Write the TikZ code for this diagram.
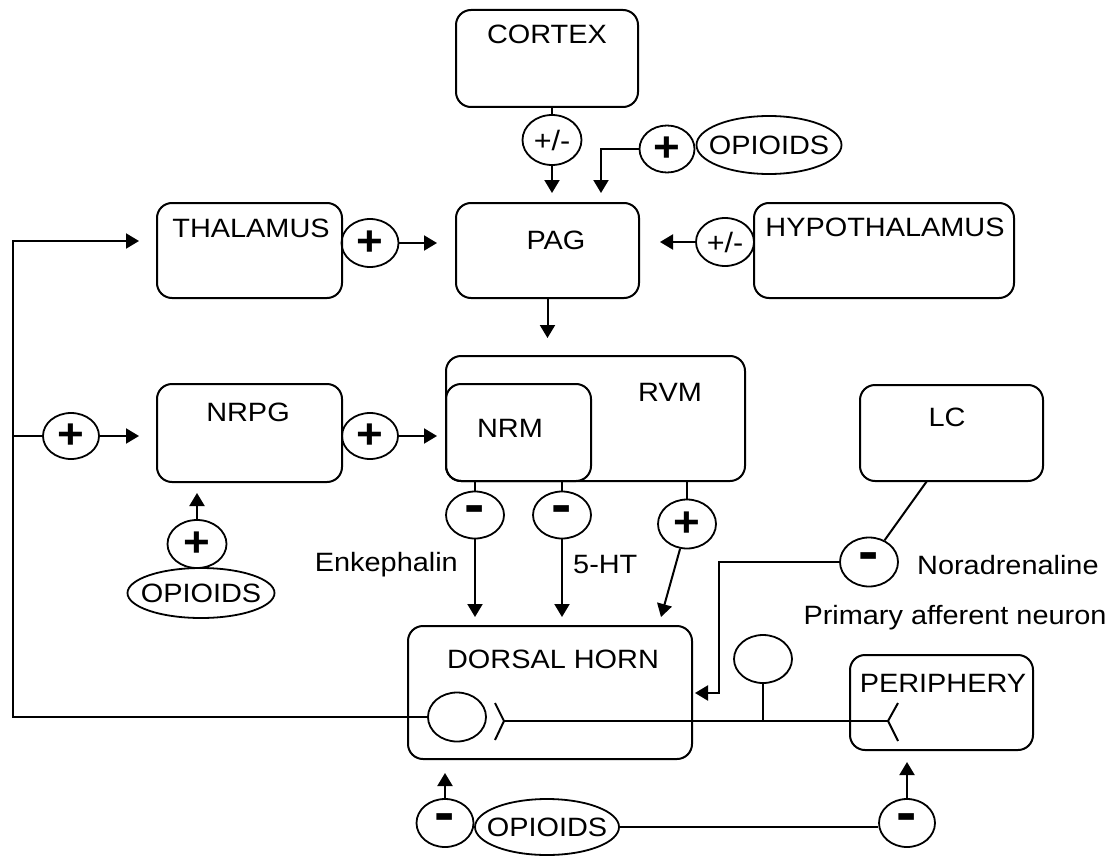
\documentclass[tikz,border=0pt]{standalone}
\usepackage{fontspec}
\setmainfont{Liberation Sans}[FakeStretch=1.09]
\usetikzlibrary{shapes.geometric,arrows.meta,fit}
\begin{document}
\begin{tikzpicture}[x=1pt,y=-1pt,
 box/.style={draw,line width=2pt,rounded corners=15pt,inner sep=0pt},
 ell/.style={draw,ellipse,line width=1.8pt,inner sep=0pt,minimum width=58pt,minimum height=48pt,font=\fontsize{28}{30}\selectfont},
 opi/.style={ell,font=\fontsize{26.5}{30}\selectfont,inner xsep=-16pt},
 sgn/.style={ell,font=\fontsize{42}{44}\selectfont\bfseries},
 mns/.style={ell,font=\fontsize{56}{58}\selectfont\bfseries},
 txt/.style={font=\fontsize{26.5}{30}\selectfont,inner sep=0pt},
 conn/.style={line width=2pt},
 arr/.style={conn,-{Triangle[length=13pt,width=15pt]}}]
\useasboundingbox (0,0) rectangle (1113,856);
% boxes
\node[box,fit={(456,10)(638,107)}] (cortex) {};
\node[txt] (cortexT) at (547,34) {CORTEX};
\node[box,fit={(456,203)(639,298)}] (pag) {};
\node[txt] (pagT) at (556,240) {PAG};
\node[box,fit={(157,203)(342,298)}] (thal) {};
\node[txt] (thalT) at (251,228) {THALAMUS};
\node[box,fit={(754,203)(1014,298)}] (hypo) {};
\node[txt] (hypoT) at (885,227) {HYPOTHALAMUS};
\node[box,fit={(157,384)(342,482)}] (nrpg) {};
\node[txt] (nrpgT) at (248,412) {NRPG};
\node[box,fit={(446,356)(745,481)}] (rvm) {};
\node[txt] (rvmT) at (670,392) {RVM};
\node[box,fit={(446,384)(591,481)}] (nrm) {};
\node[txt] (nrmT) at (510,428) {NRM};
\node[box,fit={(860,385)(1043,481)}] (lc) {};
\node[txt] (lcT) at (947,417) {LC};
\node[box,fit={(408,626)(692,759)}] (dh) {};
\node[txt] (dhT) at (553,659) {DORSAL HORN};
\node[box,fit={(850,655)(1033,750)}] (peri) {};
\node[txt] (periT) at (943,683) {PERIPHERY};
% ellipses
\node[ell,minimum width=59pt,minimum height=50pt] (c1) at (552,140) {+/-};
\node[sgn,minimum width=55pt,minimum height=47pt] (op1p) at (667,149) {+};
\node[opi,minimum width=145pt,minimum height=58pt] (op1) at (769,145) {OPIOIDS};
\node[sgn,minimum width=57pt] (th1) at (370,243) {+};
\node[ell] (hy1) at (725,242) {+/-};
\node[sgn,minimum width=56pt,minimum height=46pt] (nr0) at (71,436) {+};
\node[sgn,minimum width=56pt,minimum height=46pt] (nr1) at (370,436) {+};
\node[sgn,minimum width=59pt] (nrop1) at (197,544) {+};
\node[opi,minimum width=147pt,minimum height=50pt] (nrop) at (201,593) {OPIOIDS};
\node[mns,minimum height=47pt] (m1) at (475,515) {-};
\node[mns,minimum height=47pt] (m2) at (562,515) {-};
\node[sgn,minimum height=49pt] (p3) at (687,524) {+};
\node[mns,minimum height=49pt] (lcm) at (869,562) {-};
\node[ell,minimum height=49pt] (neuron) at (457,717) {};
\node[ell] (soma) at (763,659) {};
\node[mns,minimum width=57pt] (bm1) at (445,823) {-};
\node[opi,minimum width=144pt,minimum height=56pt] (bop) at (547,827) {OPIOIDS};
\node[mns,minimum width=56pt] (bm2) at (907,823) {-};
% labels
\node[txt,anchor=east] (enk) at (458,565) {Enkephalin};
\node[txt,anchor=west] (ht) at (573,565) {5-HT};
\node[txt,anchor=west] (nora) at (917,565) {Noradrenaline};
\node[txt] (paf) at (955,618) {Primary afferent neuron};
% coordinates
\coordinate (pagA) at (552,193);
\coordinate (pagB) at (601,193);
\coordinate (pagC) at (437,243);
\coordinate (pagD) at (660,242);
\coordinate (rvmA) at (547.5,338);
\coordinate (corner) at (13,241);
\coordinate (thalTip) at (139,241);
\coordinate (nrpgTip) at (139,436);
\coordinate (nrmTip) at (437,436);
\coordinate (nrpgB) at (197,493);
\coordinate (dhA) at (475,617);
\coordinate (dhB) at (562,617);
\coordinate (dhC) at (661,617);
\coordinate (lcOut) at (927,481);
\coordinate (naCorner) at (719,693);
\coordinate (dhD) at (695,693);
\coordinate (syn) at (504,721);
\coordinate (term) at (888,721);
\coordinate (dhE) at (445,773);
\coordinate (periTip) at (907,762);
% connectors
\draw[conn] (c1.north |- cortex.south) -- (c1.north);
\draw[arr] (c1.south) -- (pagA);
\draw[arr] (op1p.west) -| (pagB);
\draw[arr] (th1.east) -- (pagC);
\draw[arr] (hy1.west) -- (pagD);
\draw[arr] (pag.south) -- (rvmA);
\draw[arr] (neuron.west) -| (corner) -- (thalTip);
\draw[conn] (corner |- nr0) -- (nr0.west);
\draw[arr] (nr0.east) -- (nrpgTip);
\draw[arr] (nr1.east) -- (nrmTip);
\draw[arr] (nrop1.north) -- (nrpgB);
\draw[conn] (m1.north |- nrm.south) -- (m1.north);
\draw[arr] (m1.south) -- (dhA);
\draw[conn] (m2.north |- nrm.south) -- (m2.north);
\draw[arr] (m2.south) -- (dhB);
\draw[conn] (p3.north |- rvm.south) -- (p3.north);
\draw[arr] (p3) -- (dhC);
\draw[conn] (lcOut) -- (lcm);
\draw[arr] (lcm.west) -| (naCorner) -- (dhD);
\draw[conn] (495,703) -- (syn) -- (495,740);
\draw[conn] (syn) -- (term);
\draw[conn] (898,703) -- (term) -- (898,741);
\draw[conn] (soma.south) -- (soma.south |- syn);
\draw[arr] (bm1.north) -- (dhE);
\draw[arr] (bm2.north) -- (periTip);
\draw[conn] (bop.east) -- (bop.east -| bm2.west);
\end{tikzpicture}
\end{document}
